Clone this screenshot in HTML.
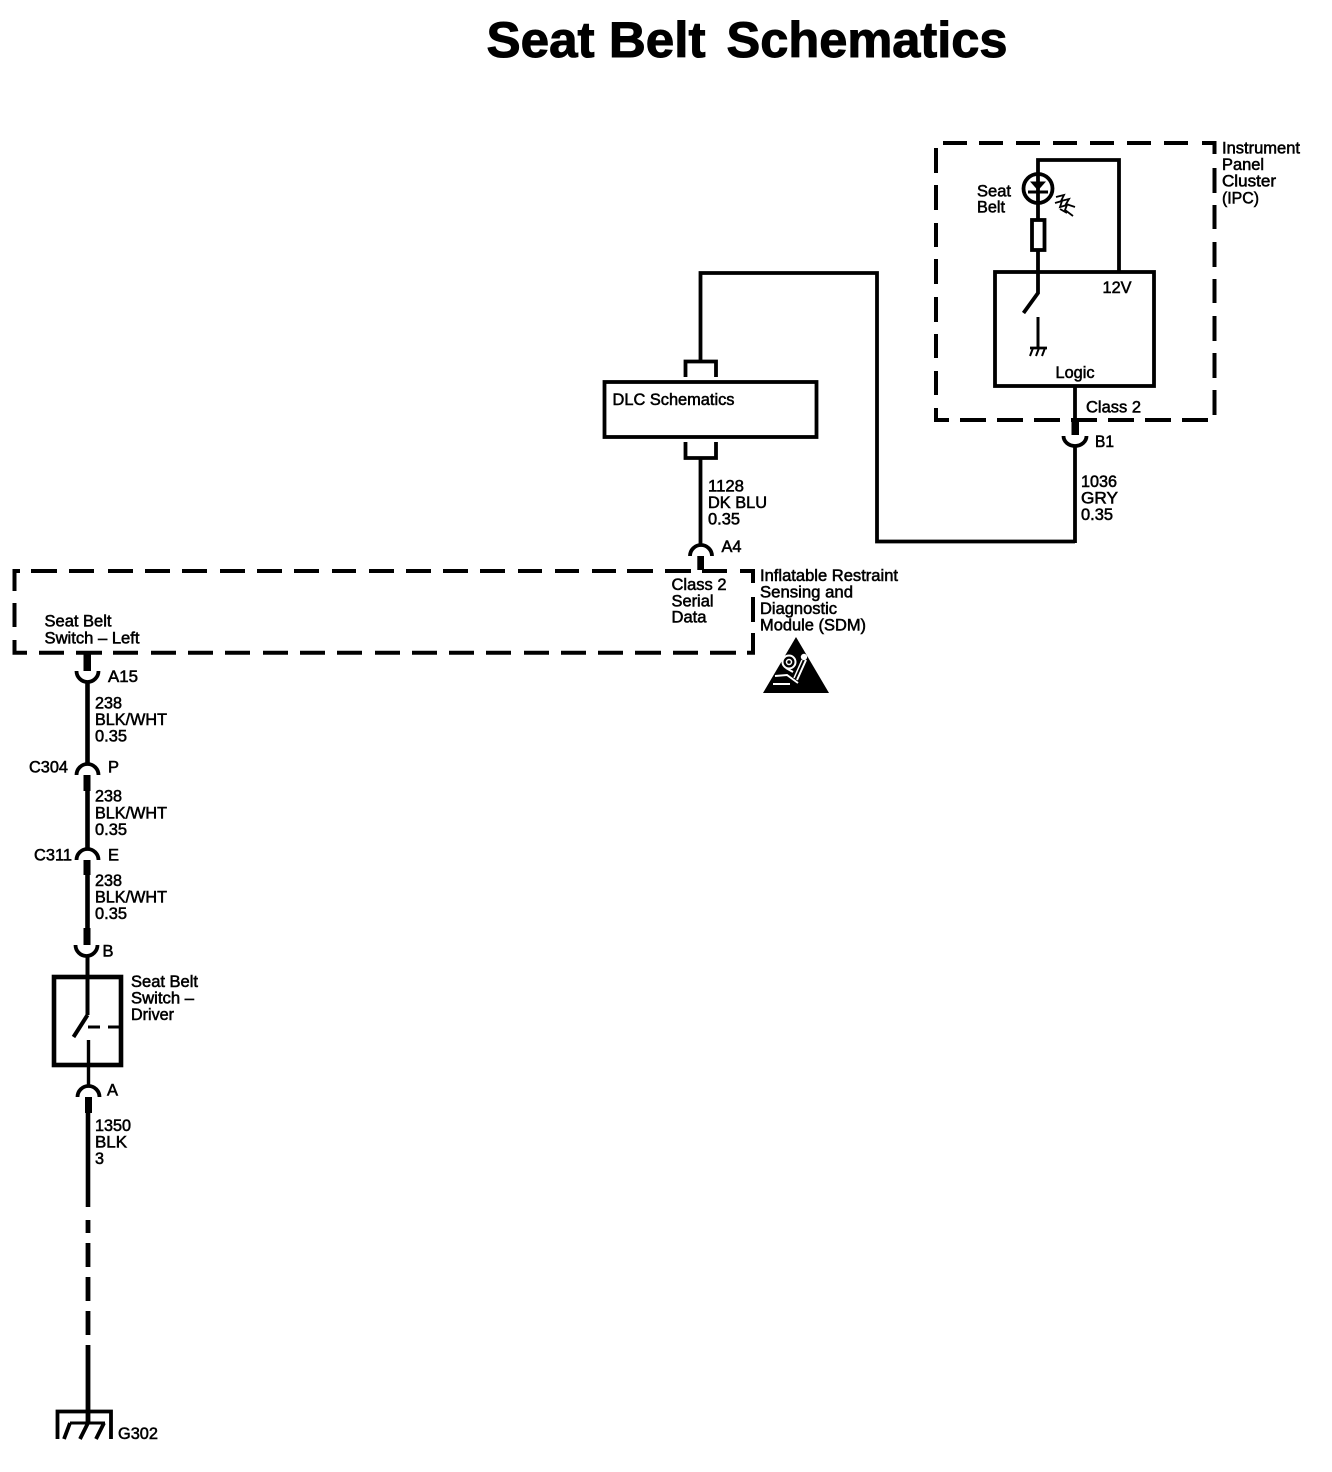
<!DOCTYPE html>
<html><head><meta charset="utf-8"><style>
html,body{margin:0;padding:0;background:#fff}
svg{display:block}
text{font-family:"Liberation Sans",sans-serif;font-size:16.5px;fill:#000;stroke:#000;stroke-width:.55px}
.t{font-size:50px;font-weight:bold;stroke:#000;stroke-width:1px}
.n{fill:none;stroke:#000;stroke-linecap:butt;stroke-linejoin:miter}
</style></head><body>
<svg width="1332" height="1472" viewBox="0 0 1332 1472" xmlns="http://www.w3.org/2000/svg">
<rect width="1332" height="1472" fill="#fff"/>
<text class="t" x="486.5" y="57" textLength="219" lengthAdjust="spacingAndGlyphs">Seat Belt</text>
<text class="t" x="726.5" y="57" textLength="281" lengthAdjust="spacingAndGlyphs">Schematics</text>

<!-- IPC dashed box -->
<g class="n" stroke-width="4">
<path d="M943 143H967M979 143H1003M1016 143H1040M1053 143H1077M1090 143H1114M1127 143H1151M1164 143H1188M1202 143H1214.5V154M1214.5 168V193M1214.5 205V229M1214.5 242V267M1214.5 279V303M1214.5 316V341M1214.5 353V378M1214.5 390V415M1208 420H1182M1171 420H1145M1134 420H1108M1097 420H1071M1060 420H1034M1023 420H997M986 420H960M949 420H936V408M936 395V371M936 358V334M936 322V297M936 284V259M936 247V223M936 210V185M936 173V148"/>
</g>
<!-- IPC internals -->
<g class="n" stroke-width="3.8">
<path d="M1038 219V160H1119V272"/>
<circle cx="1038" cy="188.5" r="14.5"/>
<rect x="1032" y="220" width="12.5" height="30"/>
<rect x="995" y="272" width="159" height="114"/>
<path d="M1038 250V293L1023.5 313"/>
<path d="M1038 317V347" stroke-width="3"/>
<path d="M1030 348H1047" stroke-width="2.8"/>
<path d="M1033 348L1030 356M1039 348L1036 356M1045 348L1042 356" stroke-width="2"/>
<path d="M1028 192H1048" stroke-width="3"/>
<path d="M1075 387V435"/>
<path d="M1075 543V447"/>
<path d="M1075 541.5H877V273H700.5V361"/>
<path d="M685.5 377V361.5H716V377"/>
<rect x="604.5" y="382" width="212" height="55"/>
<path d="M685.5 442V458H716V442"/>
<path d="M700.5 458V544"/>
</g>
<path d="M1030 181.5H1046L1038 190.5Z" fill="#000"/>
<g class="n" stroke-width="1.8">
<path d="M1056 197L1064 195L1061 201L1069 199L1066 204L1075 207"/>
<path d="M1055 203L1062 201L1060 207L1067 205L1065 210L1073 216"/>
<path d="M1060 209L1067 213"/>
</g>

<g class="n" stroke-width="3.8">
<path d="M1063.5 436A11.5 10 0 0 0 1086.5 436"/>
<path d="M690 556A11 11 0 0 1 712 556"/>
</g>
<rect x="1071.5" y="418" width="7.5" height="17" fill="#000"/>
<rect x="697.3" y="556" width="6.7" height="14" fill="#000"/>

<!-- SDM dashed box -->
<g class="n" stroke-width="4">
<path d="M20 571H14.5V591M14.5 603V627M14.5 640V652.7H27M39 652.7H64M76 652.7H102M113 652.7H138M151 652.7H176M188 652.7H213M225 652.7H250M263 652.7H288M300 652.7H325M337 652.7H362M375 652.7H400M412 652.7H437M449 652.7H474M486 652.7H511M524 652.7H549M561 652.7H586M598 652.7H623M635 652.7H661M673 652.7H698M710 652.7H736M747 652.7H753V633M753 622V597M753 583V571H740M727 571H702M691 571H665M653 571H627M616 571H592M579 571H555M542 571H518M505 571H480M468 571H443M431 571H406M394 571H369M356 571H332M319 571H294M282 571H257M245 571H220M207 571H182M170 571H145M133 571H108M94 571H69M57 571H31"/>
</g>

<!-- left harness -->
<g class="n" stroke-width="4.6">
<path d="M87.5 683V763"/>
<path d="M87.5 775V848"/>
<path d="M87.5 860V928"/>
<path d="M87.5 957V1015" stroke-width="4"/>
<path d="M87.5 1015L73.5 1037" stroke-width="4"/>
<path d="M88.5 1040V1085" stroke-width="3.4"/>
<path d="M88 1097V1207"/>
<path d="M88 1220V1233M88 1243V1267M88 1277V1301M88 1311V1335M88 1345V1423" stroke-width="4.8"/>
</g>
<g class="n" stroke-width="3.8">
<path d="M76.5 671A11 11 0 0 0 98.5 671"/>
<path d="M76.5 775A11 11 0 0 1 98.5 775"/>
<path d="M76.5 860A11 11 0 0 1 98.5 860"/>
<path d="M75.5 945A11 11 0 0 0 97.5 945"/>
<path d="M77.5 1097A11 11 0 0 1 99.5 1097"/>
</g>
<g fill="#000">
<rect x="83.5" y="653" width="7.5" height="18"/>
<rect x="83.5" y="775" width="7" height="16"/>
<rect x="83.5" y="860" width="7" height="15"/>
<rect x="83.5" y="928" width="7" height="17"/>
<rect x="85" y="1097" width="7" height="16"/>
</g>
<rect x="54" y="977" width="67" height="88" fill="none" stroke="#000" stroke-width="4.6"/>
<path class="n" stroke-width="3" d="M88 1027H100M108 1027H120"/>

<!-- ground -->
<g class="n" stroke-width="3.8">
<path d="M57.5 1439V1411.5H111V1439"/>
<path d="M70 1423H105" stroke-width="3"/>
<path d="M70 1423L64 1439M88 1423L80 1439M104 1423L96 1439"/>
</g>

<!-- SIR triangle -->
<path d="M796 637L829 693H763Z" fill="#000"/>
<g class="n" style="stroke:#fff" stroke-width="2">
<circle cx="789" cy="662" r="6.5"/>
<circle cx="789" cy="662" r="2.5" stroke-width="1.5"/>
<path d="M806 660L797 680"/>
<path d="M802 660L794 678" stroke-width="1.5"/>
<path d="M775 676L787 675L798 683M773 684H790"/>
<path d="M786 668L793 672"/>
</g>
<circle cx="804" cy="657" r="3.2" fill="#fff"/>

<!-- labels -->
<text x="1222" y="153.5" textLength="78" lengthAdjust="spacingAndGlyphs">Instrument</text>
<text x="1222" y="170" textLength="42" lengthAdjust="spacingAndGlyphs">Panel</text>
<text x="1222" y="186.5" textLength="54" lengthAdjust="spacingAndGlyphs">Cluster</text>
<text x="1222" y="203.5" textLength="37" lengthAdjust="spacingAndGlyphs">(IPC)</text>
<text x="977" y="196.5" textLength="34" lengthAdjust="spacingAndGlyphs">Seat</text>
<text x="977" y="212.5" textLength="28" lengthAdjust="spacingAndGlyphs">Belt</text>
<text x="1102.5" y="293" textLength="29" lengthAdjust="spacingAndGlyphs">12V</text>
<text x="1055.5" y="378" textLength="39" lengthAdjust="spacingAndGlyphs">Logic</text>
<text x="1086" y="412.5" textLength="55" lengthAdjust="spacingAndGlyphs">Class 2</text>
<text x="1095" y="447" textLength="19" lengthAdjust="spacingAndGlyphs">B1</text>
<text x="1081" y="487" textLength="36" lengthAdjust="spacingAndGlyphs">1036</text>
<text x="1081" y="503.5" textLength="37" lengthAdjust="spacingAndGlyphs">GRY</text>
<text x="1081" y="520" textLength="32" lengthAdjust="spacingAndGlyphs">0.35</text>
<text x="612.5" y="405" textLength="122" lengthAdjust="spacingAndGlyphs">DLC Schematics</text>
<text x="708" y="491.5" textLength="36" lengthAdjust="spacingAndGlyphs">1128</text>
<text x="708" y="508" textLength="59" lengthAdjust="spacingAndGlyphs">DK BLU</text>
<text x="708" y="524.5" textLength="32" lengthAdjust="spacingAndGlyphs">0.35</text>
<text x="721.5" y="552" textLength="20" lengthAdjust="spacingAndGlyphs">A4</text>
<text x="671.5" y="590" textLength="55" lengthAdjust="spacingAndGlyphs">Class 2</text>
<text x="671.5" y="606.5" textLength="42" lengthAdjust="spacingAndGlyphs">Serial</text>
<text x="671.5" y="622.5" textLength="35" lengthAdjust="spacingAndGlyphs">Data</text>
<text x="760" y="581" textLength="138" lengthAdjust="spacingAndGlyphs">Inflatable Restraint</text>
<text x="760" y="597.5" textLength="93" lengthAdjust="spacingAndGlyphs">Sensing and</text>
<text x="760" y="614" textLength="77" lengthAdjust="spacingAndGlyphs">Diagnostic</text>
<text x="760" y="630.5" textLength="106" lengthAdjust="spacingAndGlyphs">Module (SDM)</text>
<text x="44.5" y="626.5" textLength="67" lengthAdjust="spacingAndGlyphs">Seat Belt</text>
<text x="44.5" y="643.5" textLength="95" lengthAdjust="spacingAndGlyphs">Switch – Left</text>
<text x="108" y="682" textLength="30" lengthAdjust="spacingAndGlyphs">A15</text>
<text x="95" y="708.5" textLength="27" lengthAdjust="spacingAndGlyphs">238</text>
<text x="95" y="725" textLength="72" lengthAdjust="spacingAndGlyphs">BLK/WHT</text>
<text x="95" y="741.5" textLength="32" lengthAdjust="spacingAndGlyphs">0.35</text>
<text x="29" y="772.5" textLength="39" lengthAdjust="spacingAndGlyphs">C304</text>
<text x="108" y="772.5" textLength="11" lengthAdjust="spacingAndGlyphs">P</text>
<text x="95" y="801.5" textLength="27" lengthAdjust="spacingAndGlyphs">238</text>
<text x="95" y="818.5" textLength="72" lengthAdjust="spacingAndGlyphs">BLK/WHT</text>
<text x="95" y="835" textLength="32" lengthAdjust="spacingAndGlyphs">0.35</text>
<text x="34" y="860.5" textLength="38" lengthAdjust="spacingAndGlyphs">C311</text>
<text x="108" y="860.5" textLength="11" lengthAdjust="spacingAndGlyphs">E</text>
<text x="95" y="886" textLength="27" lengthAdjust="spacingAndGlyphs">238</text>
<text x="95" y="902.5" textLength="72" lengthAdjust="spacingAndGlyphs">BLK/WHT</text>
<text x="95" y="919" textLength="32" lengthAdjust="spacingAndGlyphs">0.35</text>
<text x="102.5" y="956.5" textLength="11" lengthAdjust="spacingAndGlyphs">B</text>
<text x="131" y="987" textLength="67" lengthAdjust="spacingAndGlyphs">Seat Belt</text>
<text x="131" y="1003.5" textLength="63" lengthAdjust="spacingAndGlyphs">Switch –</text>
<text x="131" y="1020" textLength="43" lengthAdjust="spacingAndGlyphs">Driver</text>
<text x="107" y="1095.5" textLength="11" lengthAdjust="spacingAndGlyphs">A</text>
<text x="95" y="1131" textLength="36" lengthAdjust="spacingAndGlyphs">1350</text>
<text x="95" y="1147.5" textLength="32" lengthAdjust="spacingAndGlyphs">BLK</text>
<text x="95" y="1164" textLength="9" lengthAdjust="spacingAndGlyphs">3</text>
<text x="118" y="1439" textLength="40" lengthAdjust="spacingAndGlyphs">G302</text>
</svg>
</body></html>
